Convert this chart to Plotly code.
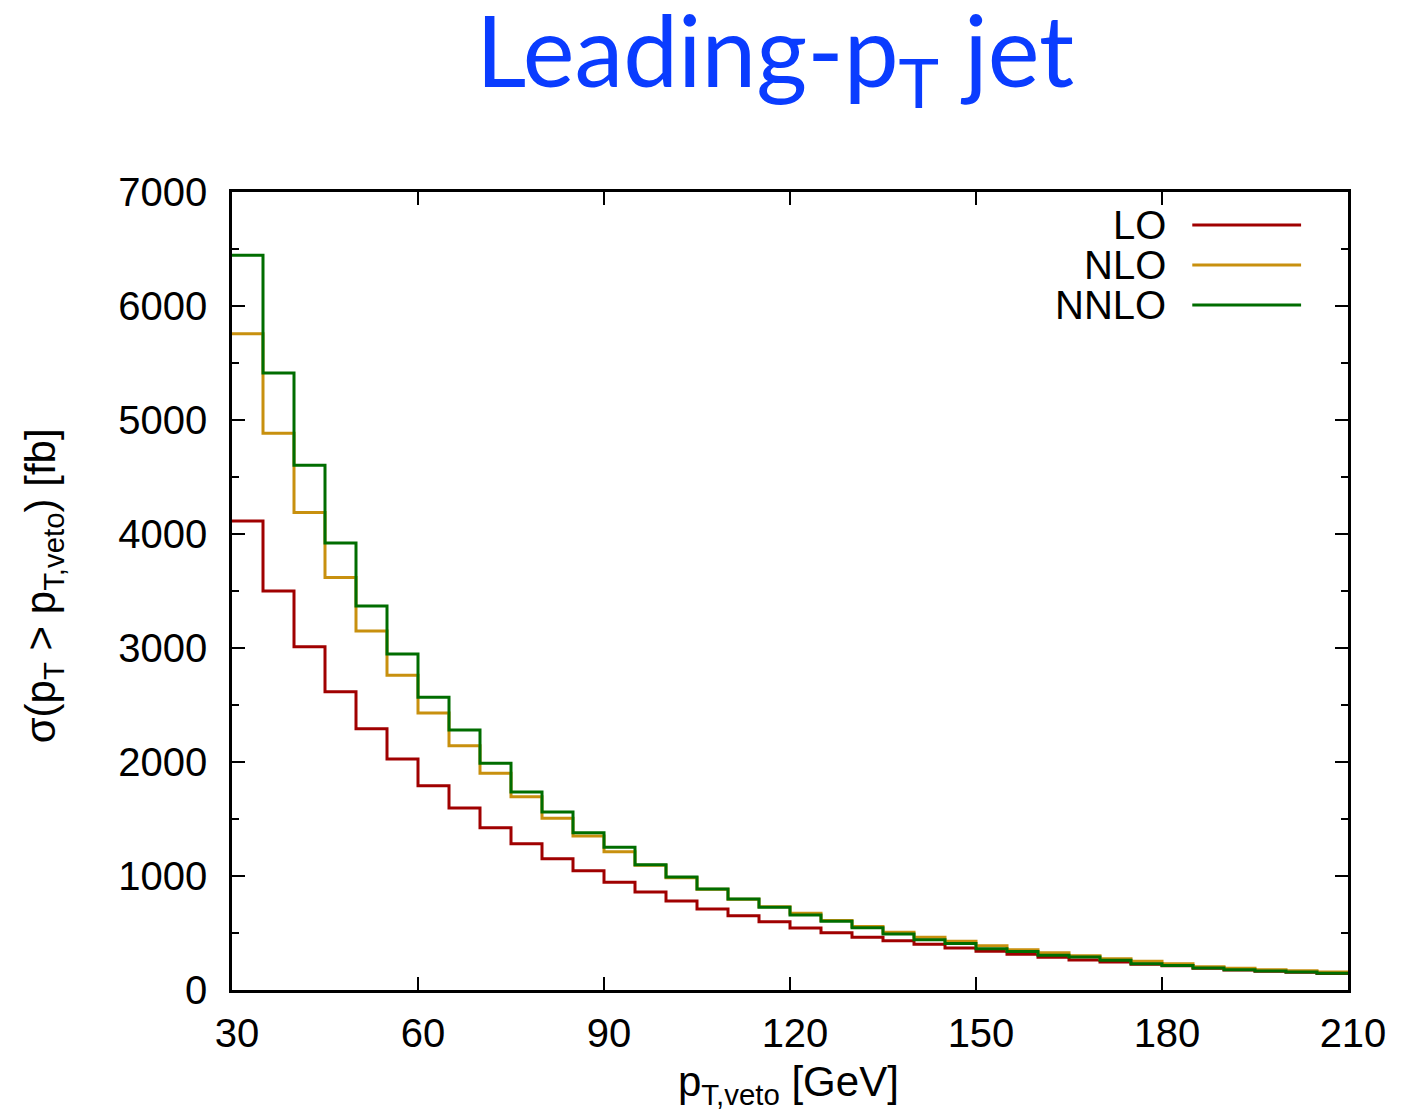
import plotly.graph_objects as go

# bin lower edges (GeV), bin width 5
bin_edges = list(range(30, 215, 5))  # 30 ... 210

lo = [4114, 3500, 3012, 2617, 2292, 2026, 1792, 1596, 1424, 1283, 1152, 1047,
      945, 860, 781, 711, 652, 599, 544, 503, 462, 433, 401, 368,
      339, 313, 287, 263, 246, 226, 212, 190, 176, 165, 155, 144]
nlo = [5757, 4883, 4188, 3618, 3149, 2760, 2430, 2143, 1901, 1696, 1506, 1351,
       1213, 1095, 985, 884, 797, 731, 673, 610, 556, 506, 462, 427,
       389, 354, 327, 301, 275, 252, 231, 205, 190, 178, 169, 158]
nnlo = [6445, 5412, 4602, 3920, 3368, 2947, 2567, 2281, 1989, 1737, 1561, 1380,
        1253, 1099, 991, 886, 798, 725, 658, 603, 547, 491, 441, 407,
        362, 338, 304, 289, 260, 231, 216, 193, 178, 167, 158, 146]

series_names = ["LO", "NLO", "NNLO"]
series_colors = ["#a00000", "#c8900e", "#006d00"]
series_values = [lo, nlo, nnlo]

x_ticks = [30, 60, 90, 120, 150, 180, 210]
y_ticks = [0, 1000, 2000, 3000, 4000, 5000, 6000, 7000]

fig = go.Figure()
for name, color, vals in zip(series_names, series_colors, series_values):
    fig.add_trace(go.Scatter(
        x=bin_edges, y=vals + [vals[-1]], mode="lines", name=name,
        line=dict(color=color, width=3, shape="hv"), showlegend=False,
    ))

sans = "Liberation Sans, Arial, sans-serif"
tick_font = dict(family=sans, size=40, color="black")

# page body has an 8px margin, so the figure is 16px smaller than the window
fig.update_layout(
    width=1390, height=1101,
    margin=dict(l=224, r=48, t=184, b=119),
    paper_bgcolor="white", plot_bgcolor="white",
    font=tick_font,
)

PW, PH = 1118.0, 798.0  # plot area size in px


def px(xp):
    return (xp - 232) / PW


def py(yp):
    return (990 - yp) / PH


fig.add_annotation(text="Leading-p<sub>T</sub> jet", xref="paper", yref="paper",
                   x=px(776), y=py(56), xanchor="center", yanchor="middle",
                   showarrow=False,
                   font=dict(family="Lato, sans-serif", size=98, color="#0a3cff"))

fig.add_annotation(text="p<sub>T,veto</sub> [GeV]", xref="paper", yref="paper",
                   x=px(789), y=py(1084), xanchor="center", yanchor="middle",
                   showarrow=False, font=dict(family=sans, size=42, color="black"))

fig.add_annotation(text="σ(p<sub>T</sub> > p<sub>T,veto</sub>) [fb]", xref="paper", yref="paper",
                   x=px(43), y=py(586), xanchor="center", yanchor="middle", textangle=-90,
                   showarrow=False, font=dict(family=sans, size=42, color="black"))

fig.update_xaxes(
    range=[30, 210], tickvals=x_ticks, ticks="inside", ticklen=13, tickwidth=2,
    tickcolor="black", showline=True, linecolor="black", linewidth=2.5,
    mirror="allticks", showgrid=False, zeroline=False, tickfont=tick_font,
    ticklabelstandoff=6, ticklabelshift=5,
)
fig.update_yaxes(
    range=[0, 7000], tickvals=y_ticks, ticks="inside", ticklen=13, tickwidth=2,
    tickcolor="black", showline=True, linecolor="black", linewidth=2.5,
    mirror="allticks", showgrid=False, zeroline=False, tickfont=tick_font,
    ticklabelstandoff=14,
    minor=dict(dtick=500, ticks="inside", ticklen=7, tickwidth=2, tickcolor="black", showgrid=False),
)

# legend (text to the left of line samples, gnuplot style)
leg_y = [225, 265, 305]
for name, color, yy in zip(series_names, series_colors, leg_y):
    fig.add_annotation(text=name, xref="paper", yref="paper", x=px(1170), y=py(yy),
                       xanchor="right", yanchor="middle", showarrow=False,
                       font=dict(family=sans, size=40, color="black"))
    fig.add_shape(type="line", xref="paper", yref="paper", x0=px(1194), x1=px(1303),
                  y0=py(yy), y1=py(yy), line=dict(color=color, width=3))

fig.write_html("out.html")
